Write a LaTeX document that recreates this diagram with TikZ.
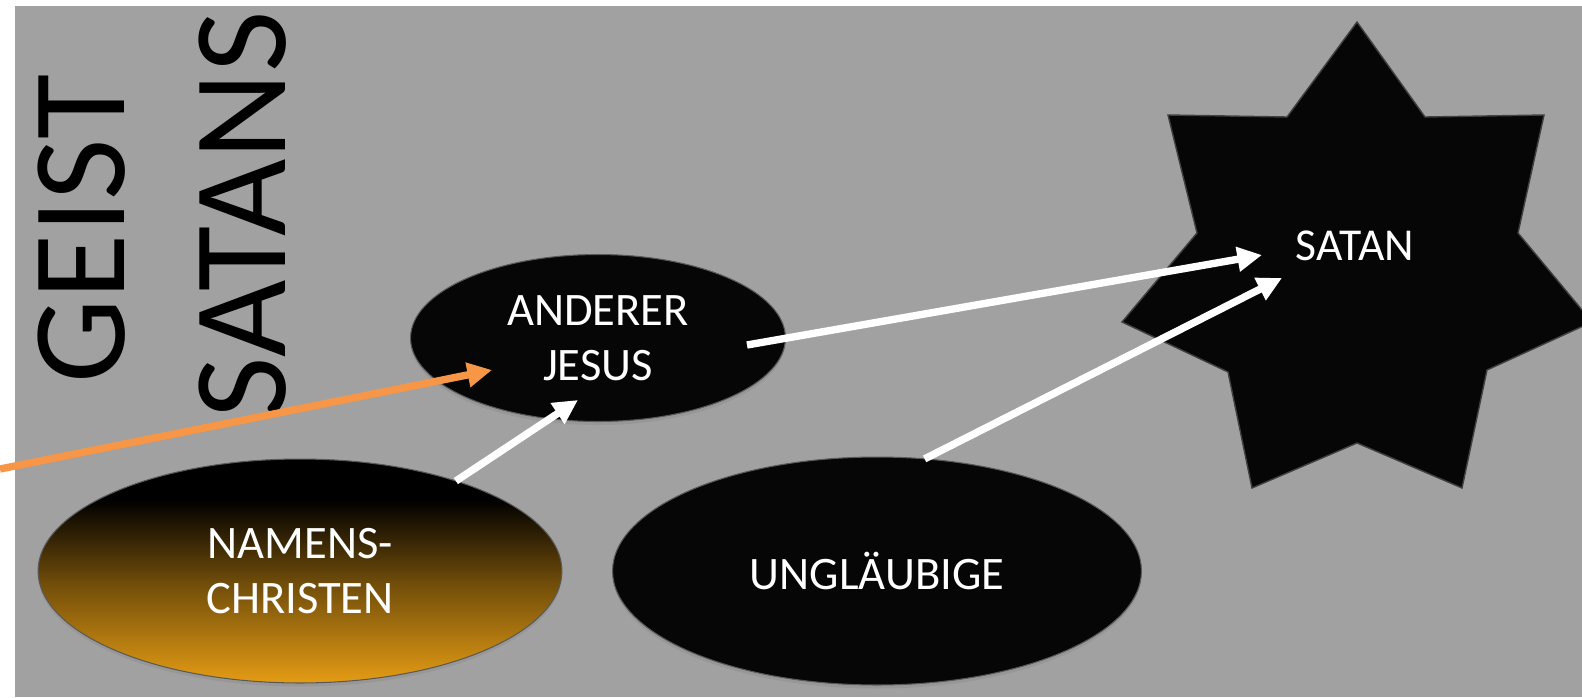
\documentclass[tikz,border=0pt]{standalone}
\usepackage{fontspec}
\setmainfont{Carlito}
\usetikzlibrary{arrows.meta,shapes.geometric,shadows}
\definecolor{bggray}{RGB}{161,161,161}
\definecolor{nameorange}{RGB}{228,156,20}
\definecolor{arroworange}{RGB}{247,150,70}
\definecolor{blobblack}{RGB}{6,6,6}
\pgfdeclareverticalshading{namensfade}{100bp}{color(0bp)=(nameorange); 
color(25bp)=(nameorange); color(47bp)=(nameorange!50!black); 
color(66bp)=(black); color(100bp)=(black)}

\begin{document}
\begin{tikzpicture}[x=0.02cm, y=-0.02cm,
    blob/.style={ellipse, draw=black!65, line width=0.6pt, fill=blobblack, 
        text=white, align=center, inner sep=0pt, outer sep=0pt, 
        font=\fontsize{26.5}{31.3}\selectfont,
        drop shadow={shadow xshift=0pt, shadow yshift=-2pt, opacity=.3}},
    bigword/.style={rotate=90, inner sep=0pt, font=\fontsize{76}{90}\selectfont},
    whitearrow/.style={draw=white, line width=4.2pt, 
        -{Triangle[length=14pt,width=13.5pt]}},
    orangearrow/.style={draw=arroworange, line width=4.2pt, 
        -{Triangle[length=14pt,width=13.5pt]}}]
    \useasboundingbox (0,0) rectangle (1582,697);%
    \fill[bggray] (15,6) rectangle (1582,697);%
    % the star
    \filldraw[fill=blobblack, draw=black!75, line width=0.8pt] (1357,22) 
        -- (1425,117) -- (1544,115) -- (1518,233) -- (1592,322) 
        -- (1487,370) -- (1462,488) -- (1357,443) -- (1252,488) 
        -- (1228,372) -- (1122,322) -- (1197,233) -- (1168,115) 
        -- (1287,117) -- cycle;%
    \node[text=white, font=\fontsize{26}{31}\selectfont] (satan) at (1355,246) 
        {SATAN};%
    % the three ellipses
    \node[blob, minimum width=7.5cm, minimum height=3.34cm] (jesus) 
        at (598,338) {ANDERER\\JESUS};%
    \node[blob, fill=none, shade, shading=namensfade, minimum width=10.48cm, 
        minimum height=4.48cm] (namens) at (300,571) {NAMENS-\\CHRISTEN};%
    \node[blob, minimum width=10.58cm, minimum height=4.56cm] (unglaeubige) 
        at (877,571) {UNGLÄUBIGE};%
    % title, turned
    \node[bigword] (geist) at (82,229) {GEIST};%
    \node[bigword] (satans) at (243,215) {SATANS};%
    % arrows
    \coordinate (edge-left) at (0,469);%
    \coordinate (jesus-tip-w) at (492,370);%
    \coordinate (jesus-tip-s) at (578,400);%
    \coordinate (jesus-out) at (747,345);%
    \coordinate (satan-tip-a) at (1262,255);%
    \coordinate (satan-tip-b) at (1282,278);%
    \draw[orangearrow] (edge-left) -- (jesus-tip-w);%
    \draw[whitearrow] (namens.30) -- (jesus-tip-s);%
    \draw[whitearrow] (jesus-out) -- (satan-tip-a);%
    \draw[whitearrow] (unglaeubige.67) -- (satan-tip-b);%
\end{tikzpicture}
\end{document}
